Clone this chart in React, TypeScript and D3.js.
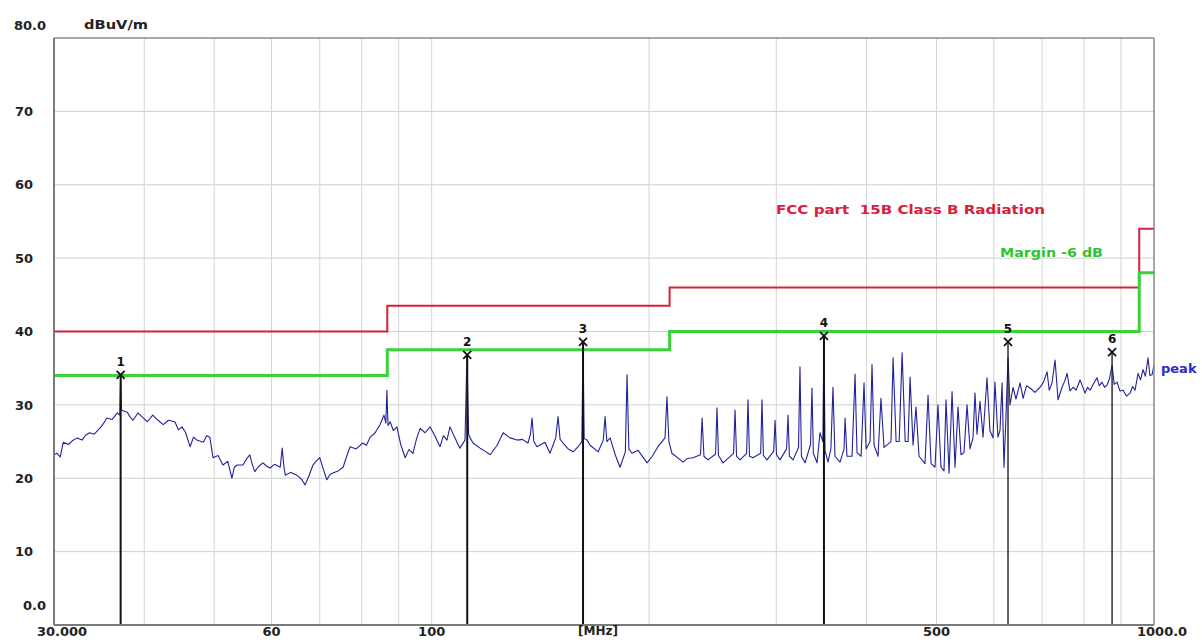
import * as d3 from 'd3';

// axis setup
const yTicks = [0, 10, 20, 30, 40, 50, 60, 70, 80];
const yTickLabels = ['0.0', '10', '20', '30', '40', '50', '60', '70', '80.0'];
const xGrid = [40, 50, 60, 70, 80, 90, 100, 200, 300, 400, 500, 600, 700, 800, 900];
const xTicks = [30, 60, 100, 500, 1000];
const xTickLabels = ['30.000', '60', '100', '500', '1000.0'];

// FCC part 15B class B limit (stepped) and the -6 dB margin
const limitFreq = [30, 86.8, 213.5, 954, 1000];
const limitLevel = [40, 43.5, 46, 54, 54];
const marginDb = 6;

// marker table
const markerLabel = ['1', '2', '3', '4', '5', '6'];
const markerFreq = [37.1, 112.0, 162.0, 349.2, 627.9, 874.9];
const markerLevel = [34.1, 36.8, 38.6, 39.4, 38.6, 37.2];

// peak trace, MHz / dBuV/m
const trace: [number, number][] = [
  [30, 23.2], [30.3, 23.4], [30.6, 22.9], [30.9, 24.9], [31.4, 24.6], [31.8, 25.1], [32.3, 25.5], [32.8, 25.2],
  [33.2, 25.9], [33.6, 26.2], [34.1, 26.0], [34.7, 26.8], [35.1, 27.4], [35.5, 28.2], [36.1, 28.0], [36.7, 28.9],
  [37.0, 28.6], [37.1, 33.8], [37.2, 29.3], [37.4, 29.2], [37.9, 29.0], [38.2, 28.4], [38.6, 27.9], [39.2, 28.9],
  [39.8, 28.3], [40.4, 27.7], [41.1, 28.6], [41.8, 27.9], [42.5, 27.3], [43.2, 27.9], [44.1, 27.7], [44.6, 26.6],
  [45.1, 27.0], [45.6, 26.3], [46.3, 24.3], [46.8, 25.6], [47.3, 25.2], [48.3, 24.9], [48.8, 25.8], [49.3, 25.6],
  [49.8, 22.8], [50.6, 23.1], [51.4, 21.8], [52.2, 22.3], [52.9, 20.0], [53.3, 21.5], [53.8, 21.8], [54.8, 21.8],
  [55.4, 22.6], [56.0, 23.2], [56.4, 22.0], [56.9, 20.9], [57.6, 21.6], [58.4, 22.1], [59.0, 21.7], [59.7, 21.4],
  [60.6, 21.9], [61.7, 21.5], [62.1, 24.1], [62.4, 21.8], [62.7, 20.4], [63.8, 20.8], [65.1, 20.4], [66.0, 19.9],
  [66.8, 19.1], [67.6, 20.3], [68.5, 21.8], [69.3, 22.4], [70.0, 22.8], [70.8, 21.2], [71.6, 19.8], [72.3, 20.5],
  [73.0, 20.7], [74.2, 21.0], [75.4, 21.5], [76.2, 22.9], [77.1, 24.3], [78.6, 24.0], [80.3, 24.8], [81.2, 24.5],
  [82.2, 25.6], [83.5, 26.2], [84.8, 27.3], [85.9, 28.6], [86.4, 27.5], [86.7, 32.0], [87.0, 27.2], [87.6, 27.7],
  [88.5, 26.5], [89.5, 27.0], [90.6, 24.6], [91.9, 22.8], [93.0, 23.9], [94.2, 23.4], [95.3, 25.4], [96.4, 26.8],
  [97.9, 26.2], [99.5, 27.0], [101.0, 25.8], [102.7, 24.3], [103.8, 25.8], [105.0, 25.2], [106.0, 27.0], [107.6, 25.6],
  [109.4, 24.1], [111.2, 25.2], [111.9, 36.6], [112.5, 26.0], [113.0, 25.5], [114.1, 24.8], [116.7, 24.1], [118.5, 23.7],
  [120.5, 23.2], [123.2, 24.5], [125.6, 26.2], [128.4, 25.5], [131.3, 25.2], [133.5, 25.3], [135.9, 24.8], [137.0, 26.0],
  [137.7, 28.2], [138.5, 25.0], [139.9, 24.3], [143.5, 24.9], [145.8, 23.4], [148.5, 25.5], [149.6, 28.4], [150.6, 25.3],
  [152.0, 24.8], [154.5, 24.0], [157.0, 23.6], [159.5, 24.3], [161.4, 25.0], [162.0, 38.4], [162.6, 25.4], [164.1, 25.2],
  [165.7, 24.5], [170.0, 23.6], [172.8, 25.2], [173.8, 28.4], [174.8, 25.0], [176.6, 25.5], [179.5, 23.2], [182.3, 21.5],
  [185.4, 23.6], [186.4, 34.1], [187.5, 24.0], [189.4, 23.4], [193.1, 23.8], [198.7, 22.1], [202.0, 23.0], [205.7, 24.3],
  [210.4, 25.5], [211.7, 31.1], [213.0, 25.0], [215.1, 23.4], [222.8, 22.2], [226.0, 22.7], [230.0, 22.8], [235.6, 23.2],
  [236.8, 28.2], [238.2, 23.0], [241.3, 22.5], [247.2, 23.3], [248.3, 29.6], [249.5, 23.1], [253.1, 22.1], [261.8, 23.4],
  [263.0, 29.3], [264.3, 23.0], [267.3, 22.5], [272.9, 23.4], [274.1, 30.7], [275.4, 23.0], [278.5, 22.8], [285.4, 23.4],
  [286.6, 30.7], [287.9, 23.1], [291.2, 22.5], [297.5, 23.7], [298.8, 27.9], [300.2, 23.2], [303.5, 22.5], [310.0, 24.0],
  [311.4, 28.6], [312.8, 23.0], [316.5, 22.5], [322.0, 24.2], [323.5, 35.2], [325.0, 23.0], [328.8, 22.1], [334.6, 24.6],
  [336.1, 32.3], [337.6, 23.4], [341.6, 22.1], [344.8, 26.2], [348.0, 25.0], [349.2, 39.3], [350.4, 23.8], [353.7, 22.2],
  [357.0, 24.0], [359.4, 32.4], [361.7, 23.0], [367.6, 22.2], [372.3, 24.0], [373.5, 28.2], [375.8, 23.0], [381.9, 23.0],
  [385.6, 34.2], [388.0, 23.5], [393.1, 23.0], [396.8, 33.0], [399.4, 24.0], [404.5, 25.0], [407.0, 35.5], [409.7, 24.5],
  [414.9, 23.0], [418.8, 30.9], [422.9, 24.2], [432.4, 25.0], [435.3, 36.4], [439.5, 25.0], [443.8, 25.0], [448.0, 37.1],
  [452.4, 25.0], [456.6, 25.0], [459.5, 33.8], [463.9, 24.5], [468.3, 29.7], [472.8, 23.0], [481.9, 22.0], [486.6, 31.3],
  [491.3, 22.0], [497.5, 21.5], [502.3, 30.0], [507.1, 21.5], [512.0, 21.0], [515.3, 30.7], [520.3, 20.7], [525.3, 31.8],
  [530.3, 21.5], [535.4, 29.7], [540.5, 23.2], [545.7, 23.5], [551.0, 30.0], [556.3, 24.0], [561.6, 25.5], [565.2, 31.6],
  [568.8, 26.0], [574.3, 30.5], [579.8, 25.6], [587.2, 33.7], [592.7, 26.5], [598.5, 25.5], [602.3, 33.1], [608.1, 25.6],
  [612.0, 26.5], [616.1, 33.0], [619.9, 21.5], [623.9, 28.5], [627.9, 36.4], [631.9, 30.0], [638.1, 32.4], [644.0, 30.8],
  [652.5, 33.0], [658.8, 30.9], [666.0, 32.6], [673.7, 32.3], [684.0, 31.7], [695.5, 32.4], [703.0, 33.1], [711.2, 34.5],
  [716.0, 32.0], [722.5, 33.0], [729.5, 36.1], [736.5, 30.7], [745.9, 32.4], [752.0, 33.2], [758.0, 34.3], [765.0, 31.9],
  [772.6, 32.4], [780.0, 32.0], [790.0, 33.4], [802.7, 31.6], [809.0, 32.4], [815.6, 32.0], [825.0, 32.9], [834.0, 33.7],
  [840.0, 32.6], [847.3, 33.1], [854.0, 32.4], [860.9, 32.7], [868.0, 33.6], [874.9, 35.4], [881.0, 32.8], [888.9, 33.1],
  [897.0, 31.9], [906.1, 32.0], [916.0, 31.2], [926.6, 31.6], [934.0, 32.5], [941.4, 32.0], [950.4, 34.3], [958.0, 33.4],
  [965.6, 34.8], [973.0, 33.9], [981.1, 36.4], [987.0, 34.0], [993.7, 34.1], [1000, 35.4],
];

const W = 1202;
const H = 642;
const plot = { left: 54, right: 1154, top: 38, bottom: 625 };
const font = "'DejaVu Sans', 'Liberation Sans', Arial, sans-serif";

export default function App() {
  const x = d3.scaleLog().domain([30, 1000]).range([plot.left, plot.right]);
  const y = d3.scaleLinear().domain([0, 80]).range([plot.bottom, plot.top]);

  const limitPts = limitFreq.map((f, i) => [f, limitLevel[i]] as [number, number]);
  const marginPts = limitFreq.map((f, i) => [f, limitLevel[i] - marginDb] as [number, number]);

  const stepLine = d3
    .line<[number, number]>()
    .x((d) => x(d[0]))
    .y((d) => y(d[1]))
    .curve(d3.curveStepAfter);

  const traceLine = d3
    .line<[number, number]>()
    .x((d) => x(d[0]))
    .y((d) => y(d[1]));

  return (
    <svg
      width={W}
      height={H}
      style={{ position: 'absolute', left: 0, top: 0, background: '#fff' }}
      fontFamily={font}
    >
      <rect x={0} y={0} width={W} height={H} fill="#fff" />

      {/* grid */}
      {yTicks.slice(1, -1).map((t) => (
        <line key={`gy${t}`} x1={plot.left} x2={plot.right} y1={y(t)} y2={y(t)} stroke="#cfcfcf" strokeWidth={1} />
      ))}
      {xGrid.map((f) => (
        <line key={`gx${f}`} x1={x(f)} x2={x(f)} y1={plot.top} y2={plot.bottom} stroke="#d4d4d4" strokeWidth={1} />
      ))}

      {/* limit + margin */}
      <path d={stepLine(limitPts) ?? ''} fill="none" stroke="#d8203c" strokeWidth={2} />
      <path d={stepLine(marginPts) ?? ''} fill="none" stroke="#3ad23a" strokeWidth={3} />

      {/* trace */}
      <path d={traceLine(trace) ?? ''} fill="none" stroke="#22229a" strokeWidth={1.1} strokeLinejoin="round" />

      {/* markers */}
      {markerFreq.map((f, i) => {
        const cx = x(f);
        const cy = y(markerLevel[i]);
        return (
          <g key={`m${i}`}>
            <line x1={cx} x2={cx} y1={cy} y2={plot.bottom} stroke="#111" strokeWidth={i < 4 ? 2 : 1.3} />
            <path
              d={`M${cx - 4},${cy - 4}L${cx + 4},${cy + 4}M${cx + 4},${cy - 4}L${cx - 4},${cy + 4}`}
              stroke="#111"
              strokeWidth={1.8}
            />
            <text x={cx} y={cy - 9} textAnchor="middle" fontSize={12} fontWeight="bold" fill="#111">
              {markerLabel[i]}
            </text>
          </g>
        );
      })}

      {/* frame */}
      <line x1={plot.left} x2={plot.right} y1={plot.top} y2={plot.top} stroke="#8a8a8a" strokeWidth={1.5} />
      <line x1={plot.right} x2={plot.right} y1={plot.top} y2={plot.bottom} stroke="#8a8a8a" strokeWidth={1.5} />
      <line x1={plot.left} x2={plot.left} y1={plot.top} y2={plot.bottom} stroke="#7a7a7a" strokeWidth={2} />
      <line x1={plot.left} x2={plot.right} y1={plot.bottom} y2={plot.bottom} stroke="#7a7a7a" strokeWidth={2} />

      {/* y labels */}
      {yTicks.map((t, i) => {
        const end = i === 0 || i === yTicks.length - 1;
        const ty = i === 0 ? y(t) - 20 : i === yTicks.length - 1 ? y(t) - 13 : y(t);
        return (
          <text
            key={`yl${t}`}
            x={end ? 46 : 33}
            y={ty}
            dy="0.36em"
            textAnchor="end"
            fontSize={13}
            fontWeight="bold"
            fill="#222"
          >
            {yTickLabels[i]}
          </text>
        );
      })}
      <text
        x={84}
        y={25}
        dy="0.36em"
        fontSize={12}
        fontWeight="bold"
        fill="#222"
        textLength={64}
        lengthAdjust="spacingAndGlyphs"
      >
        dBuV/m
      </text>

      {/* x labels */}
      {xTicks.map((f, i) => {
        const edge = i === 0 || i === xTicks.length - 1;
        return (
          <text
            key={`xl${f}`}
            x={edge ? x(f) - 17 : x(f)}
            y={631}
            dy="0.36em"
            textAnchor={edge ? 'start' : 'middle'}
            fontSize={13}
            fontWeight="bold"
            fill="#222"
          >
            {xTickLabels[i]}
          </text>
        );
      })}
      <text x={598} y={631} dy="0.36em" textAnchor="middle" fontSize={12} fontWeight="bold" fill="#222">
        [MHz]
      </text>

      {/* legend texts */}
      <text
        x={776}
        y={210}
        dy="0.36em"
        fontSize={12}
        fontWeight="bold"
        fill="#d8203c"
        xmlSpace="preserve"
        textLength={269}
        lengthAdjust="spacingAndGlyphs"
      >
        FCC part  15B Class B Radiation
      </text>
      <text
        x={1000}
        y={253}
        dy="0.36em"
        fontSize={12}
        fontWeight="bold"
        fill="#2fc42f"
        textLength={103}
        lengthAdjust="spacingAndGlyphs"
      >
        Margin -6 dB
      </text>
      <text x={1161} y={368} dy="0.36em" fontSize={13} fontWeight="bold" fill="#2a2ad0">
        peak
      </text>
    </svg>
  );
}
